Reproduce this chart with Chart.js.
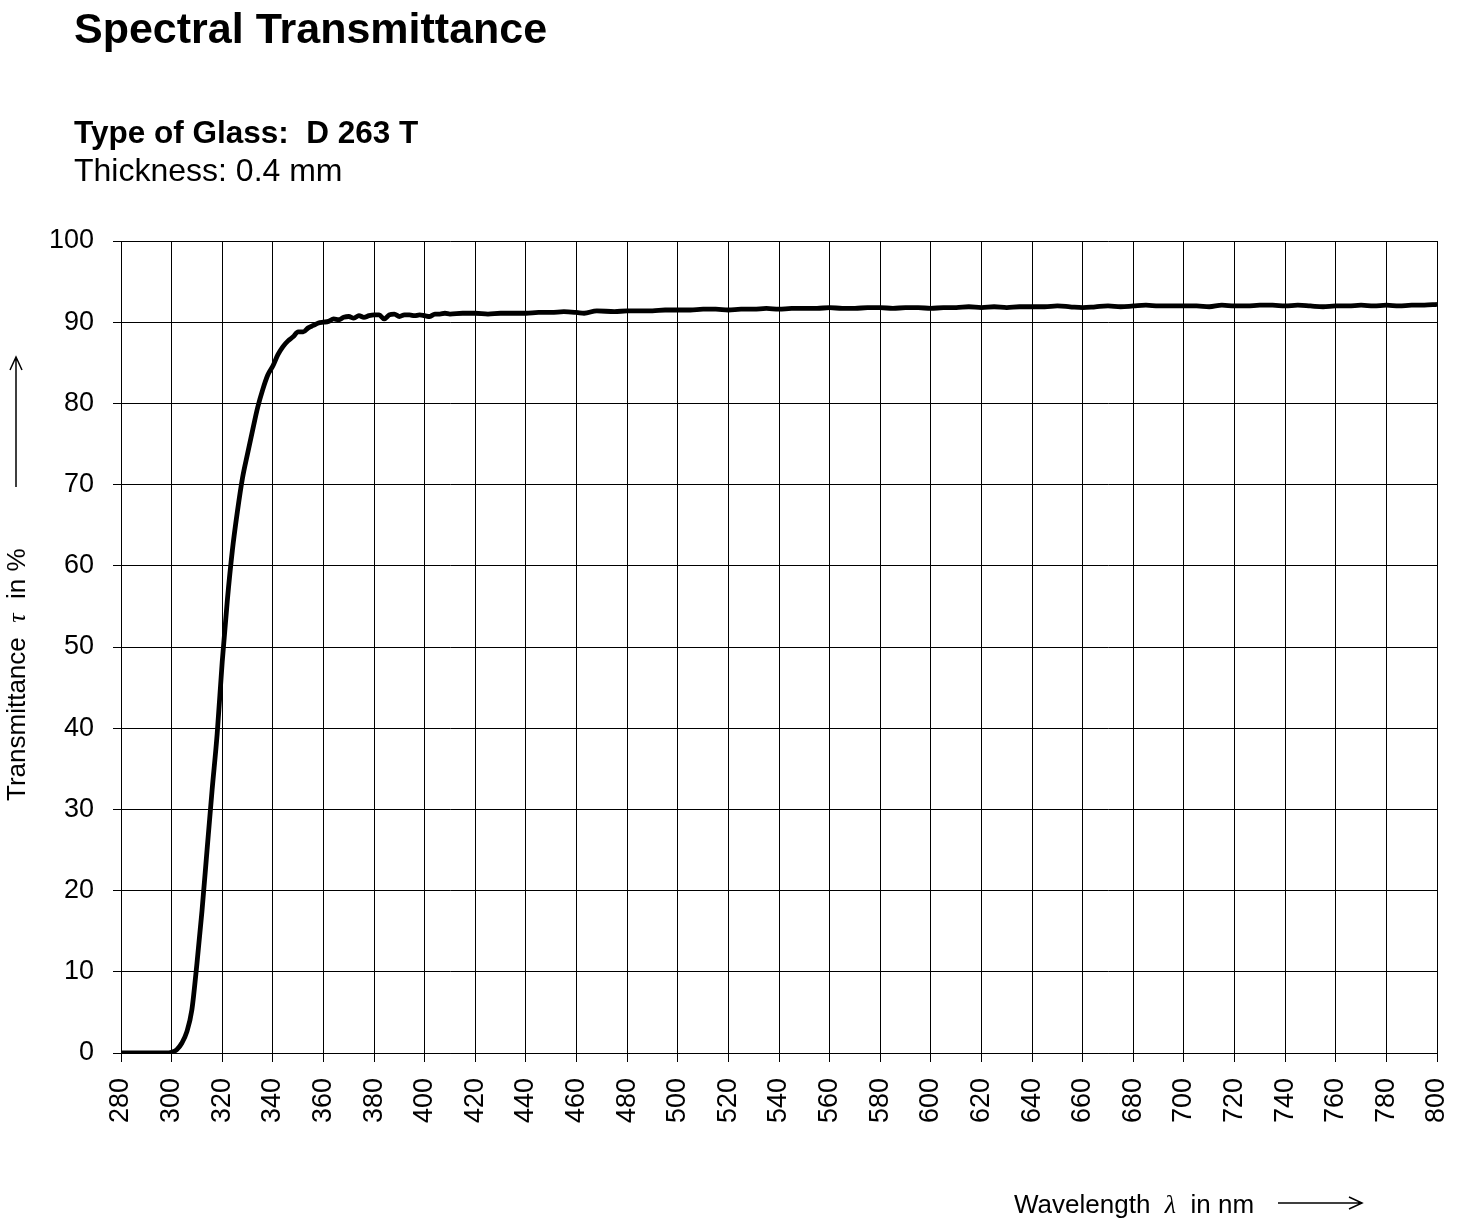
<!DOCTYPE html>
<html>
<head>
<meta charset="utf-8">
<script src="https://cdn.jsdelivr.net/npm/chart.js@4.4.1/dist/chart.umd.min.js"></script>
<style>
    body { margin: 0; background: #fff; }
    #wrap { position: relative; width: 1458px; height: 1221px; font-family: "Liberation Sans", Arial, sans-serif; color: #000; }
    #wrap canvas { position: absolute; left: 0; top: 0; }
    .txt { position: absolute; white-space: nowrap; line-height: 1; }
    .sym { font-family: "Liberation Serif", "DejaVu Serif", serif; font-style: italic; }
</style>
</head>
<body>
<div id="wrap">
    <canvas id="transChart"></canvas>
    <div class="txt" style="left:74px; top:7px; font-size:43px; font-weight:bold;">Spectral Transmittance</div>
    <div class="txt" style="left:74px; top:117px; font-size:31.5px; font-weight:bold;">Type of Glass:&nbsp; D 263 T</div>
    <div class="txt" style="left:74px; top:154px; font-size:32px;">Thickness: 0.4 mm</div>
    <div class="txt" style="left:1014px; top:1191px; font-size:26px;">Wavelength&nbsp; <span class="sym">&lambda;</span>&nbsp; in nm</div>
    <div class="txt" style="left:3px; top:801px; font-size:26px; transform-origin: 0 0; transform: rotate(-90deg);">Transmittance&nbsp; <span class="sym">&tau;</span>&nbsp; in %</div>
</div>
<script>
// Spectral transmittance, D 263 T, 0.4 mm
const wavelengths = [
    280, 290, 298, 300, 302, 304, 306, 308, 310, 312, 314, 316, 318, 320,
    322, 324, 326, 328, 330, 332, 334, 336, 338, 340, 342, 344, 346, 348,
    350, 352, 354, 356, 358, 360, 362, 364, 366, 368, 370, 372, 374, 376,
    378, 380, 382, 384, 386, 388, 390, 392, 394, 396, 398, 400, 402, 404,
    406, 408, 410, 415, 420, 425, 430, 435, 440, 445, 450, 455, 460, 463,
    468, 475, 480, 485, 490, 495, 500, 505, 510, 515, 520, 525, 530, 535,
    540, 545, 550, 555, 560, 565, 570, 575, 580, 585, 590, 595, 600, 605,
    610, 615, 620, 625, 630, 635, 640, 645, 650, 655, 660, 665, 670, 675,
    680, 685, 690, 695, 700, 705, 710, 715, 720, 725, 730, 735, 740, 745,
    750, 755, 760, 765, 770, 775, 780, 785, 790, 795, 800
];
const transmittance = [
    0.0, 0.0, 0.0, 0.1, 0.4, 1.2, 2.6, 5.3, 11.0, 17.5, 25.0, 32.4, 39.3, 48.2,
    55.7, 61.9, 66.7, 70.8, 73.8, 76.7, 79.5, 81.7, 83.5, 84.6, 86.0, 87.0, 87.7, 88.2,
    88.8, 88.8, 89.3, 89.6, 89.9, 90.0, 90.1, 90.4, 90.3, 90.6, 90.7, 90.5, 90.8, 90.6,
    90.8, 90.9, 90.9, 90.4, 90.9, 91.0, 90.7, 90.9, 90.9, 90.8, 90.9, 90.8, 90.7, 91.0,
    91.0, 91.1, 91.0, 91.1, 91.1, 91.0, 91.1, 91.1, 91.1, 91.2, 91.2, 91.3, 91.2, 91.1,
    91.4, 91.3, 91.4, 91.4, 91.4, 91.5, 91.5, 91.5, 91.6, 91.6, 91.5, 91.6, 91.6, 91.7,
    91.6, 91.7, 91.7, 91.7, 91.8, 91.7, 91.7, 91.8, 91.8, 91.7, 91.8, 91.8, 91.7, 91.8,
    91.8, 91.9, 91.8, 91.9, 91.8, 91.9, 91.9, 91.9, 92.0, 91.9, 91.8, 91.9, 92.0, 91.9,
    92.0, 92.1, 92.0, 92.0, 92.0, 92.0, 91.9, 92.1, 92.0, 92.0, 92.1, 92.1, 92.0, 92.1,
    92.0, 91.9, 92.0, 92.0, 92.1, 92.0, 92.1, 92.0, 92.1, 92.1, 92.2
];

const xMin = 280, xMax = 800, xStep = 20;
const yMin = 0, yMax = 100, yStep = 10;

const tickFont = { family: '"Liberation Sans", Arial, sans-serif', size: 27 };

// draws the two axis arrows next to the axis titles
const arrowPlugin = {
    id: 'axisArrows',
    afterDraw(chart) {
        const c = chart.ctx;
        c.save();
        c.strokeStyle = '#000';
        c.lineWidth = 1.5;
        c.beginPath();
        // x arrow
        c.moveTo(1278, 1203); c.lineTo(1362, 1203);
        c.moveTo(1349, 1197); c.lineTo(1362, 1203); c.lineTo(1349, 1209);
        // y arrow
        c.moveTo(16, 487); c.lineTo(16, 357);
        c.moveTo(10, 370); c.lineTo(16, 357); c.lineTo(22, 370);
        c.stroke();
        c.restore();
    }
};

const ctx = document.getElementById('transChart');
new Chart(ctx, {
    type: 'line',
    data: {
        datasets: [{
            data: wavelengths.map((w, i) => ({ x: w, y: transmittance[i] })),
            borderColor: '#000',
            borderWidth: 4.8,
            pointRadius: 0,
            cubicInterpolationMode: 'monotone',
            fill: false
        }]
    },
    options: {
        responsive: true,
        maintainAspectRatio: false,
        animation: false,
        layout: { padding: { top: 241, left: 0, right: 21, bottom: 0 } },
        plugins: {
            legend: { display: false },
            tooltip: { enabled: false }
        },
        scales: {
            x: {
                type: 'linear',
                min: xMin,
                max: xMax,
                afterFit: s => { s.height = 168; s.paddingLeft = 0; s.paddingRight = 0; },
                grid: { color: '#000', lineWidth: 1, tickLength: 9 },
                border: { color: '#000', width: 1 },
                ticks: {
                    stepSize: xStep,
                    autoSkip: false,
                    minRotation: 90,
                    maxRotation: 90,
                    padding: 16,
                    color: '#000',
                    font: tickFont
                }
            },
            y: {
                min: yMin,
                max: yMax,
                afterFit: s => { s.width = 121; },
                grid: { color: '#000', lineWidth: 1, tickLength: 8 },
                border: { color: '#000', width: 1 },
                ticks: {
                    stepSize: yStep,
                    padding: 19,
                    color: '#000',
                    font: tickFont
                }
            }
        }
    },
    plugins: [arrowPlugin]
});
</script>
</body>
</html>
